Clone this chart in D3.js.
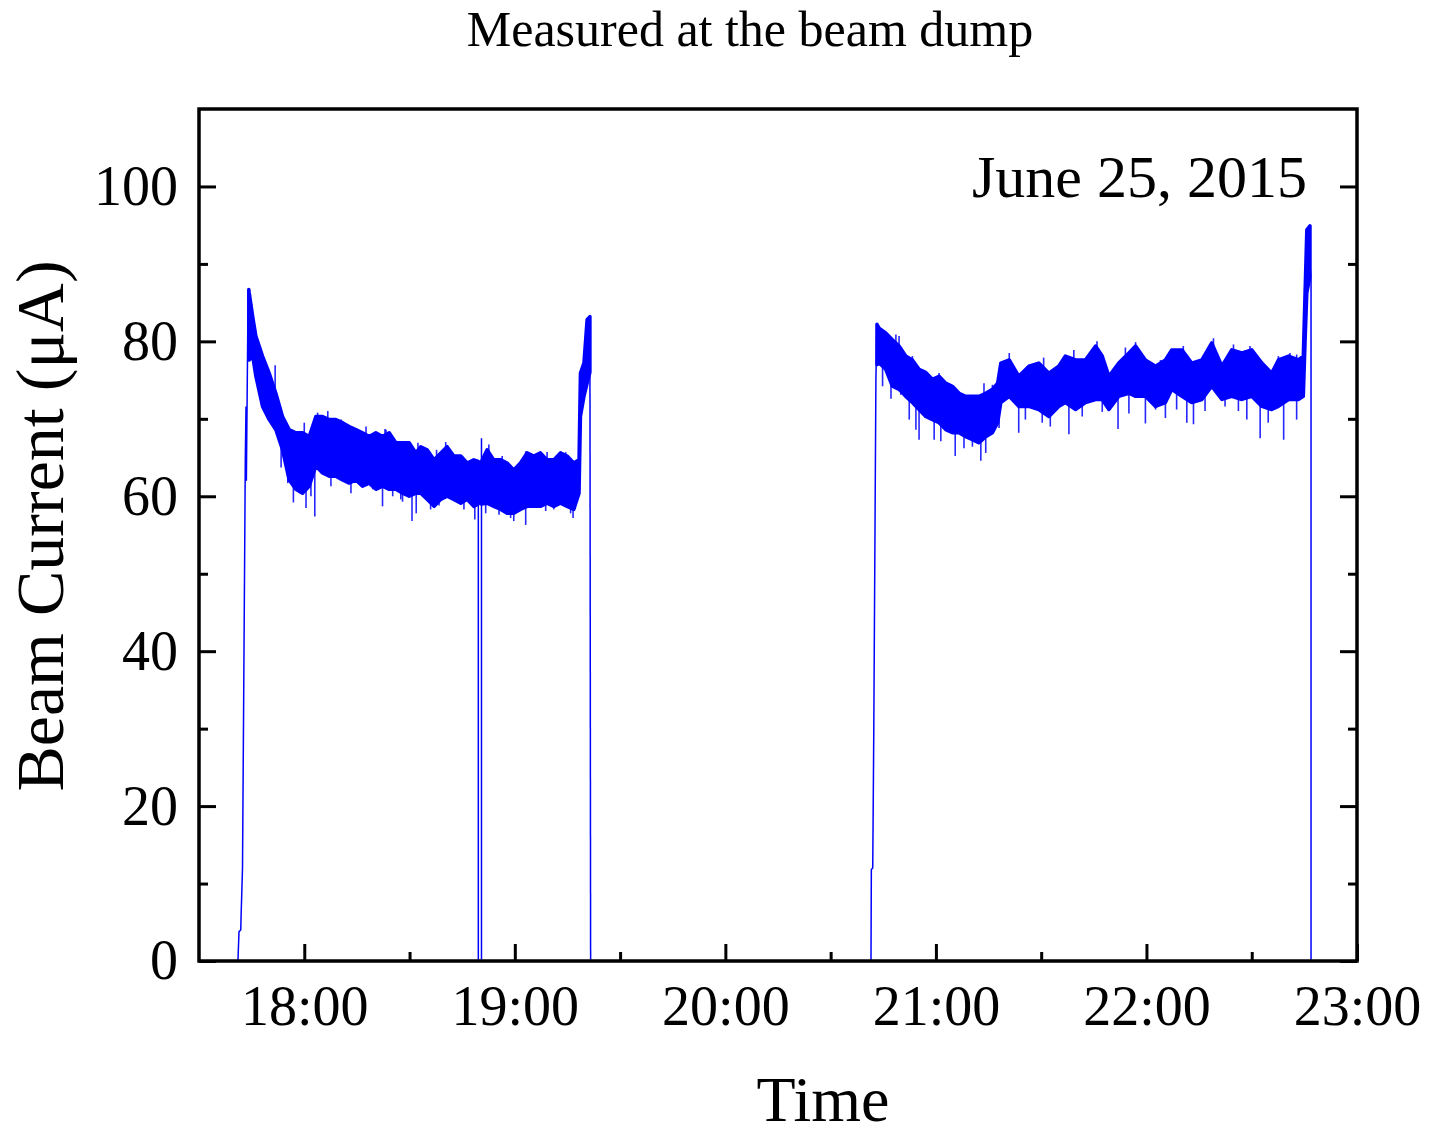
<!DOCTYPE html>
<html>
<head>
<meta charset="utf-8">
<script src="https://cdn.jsdelivr.net/npm/d3@7"></script>
<style>
  body { margin: 0; background: #fff; }
  text { font-family: "Liberation Serif", "Times New Roman", serif; fill: #000; }
</style>
</head>
<body>
<div id="chart"></div>
<script>
/* CONSTANTS AND GLOBALS */
const width = 1432,
  height = 1138,
  margin = { top: 109, bottom: 177, left: 199, right: 75 };

// times are minutes after 17:00 on June 25, 2015; values in µA (upper / lower edge of the noise band)
const run1aTime = [44.2, 44.3, 45.3, 46.2, 48.1, 50.0, 51.9, 53.8, 55.7, 57.6, 59.5, 61.4, 63.3, 65.2, 67.1, 69.0, 70.9, 72.8, 74.7, 76.6, 78.5, 80.4, 82.3, 84.2, 86.1, 88.0, 89.9, 91.8, 93.2, 95.0, 97.0, 98.9, 100.7, 102.6, 104.6, 106.4, 108.3, 109.6];
const run1aHi = [86.7, 86.3, 83.2, 80.7, 78.1, 75.9, 73.3, 70.3, 68.6, 68.2, 68.2, 67.7, 70.3, 70.3, 69.9, 69.9, 69.5, 69.0, 68.6, 68.2, 67.7, 68.2, 67.7, 68.2, 66.9, 66.9, 66.9, 65.6, 66.4, 66.0, 64.7, 65.6, 66.4, 65.2, 65.2, 64.3, 64.7, 64.5];
const run1aLo = [78.0, 77.6, 78.1, 75.5, 71.6, 69.9, 68.6, 66.0, 62.1, 60.9, 60.4, 61.3, 63.9, 63.0, 62.6, 62.6, 62.1, 61.7, 62.1, 61.3, 61.7, 60.9, 61.3, 60.9, 60.9, 60.4, 60.0, 60.4, 60.4, 59.6, 58.7, 59.6, 60.0, 59.6, 59.1, 59.6, 58.7, 59.0];

const run1bTime = [110.5, 112.1, 114.0, 116.0, 117.8, 119.7, 121.6, 123.5, 125.4, 127.3, 129.2, 131.1, 133.0, 134.9, 136.8, 138.3, 138.7, 139.7, 140.6, 141.4];
const run1bHi = [64.5, 66.0, 64.7, 64.7, 64.3, 63.4, 64.3, 65.6, 65.2, 65.6, 64.7, 64.7, 65.6, 65.2, 64.3, 64.7, 75.9, 77.2, 82.8, 83.2];
const run1bLo = [59.0, 59.1, 58.7, 58.3, 57.8, 57.8, 58.3, 58.7, 58.7, 58.7, 59.1, 58.7, 59.1, 58.7, 58.3, 60.4, 70.3, 72.9, 74.6, 76.0];

const run2Time = [223.2, 223.8, 225.7, 227.6, 229.5, 231.4, 233.3, 235.2, 237.1, 239.0, 240.9, 242.8, 244.7, 246.6, 248.5, 250.4, 252.3, 254.2, 256.1, 257.6, 258.5, 260.9, 263.6, 266.5, 269.3, 272.2, 275.0, 276.9, 279.8, 282.6, 285.5, 287.4, 289.3, 292.1, 295.0, 296.9, 299.7, 302.6, 305.4, 307.2, 310.1, 312.9, 315.8, 318.6, 321.5, 324.3, 327.2, 330.0, 332.9, 335.7, 337.6, 340.5, 343.3, 344.7, 345.2, 345.7, 346.6];
const run2Hi = [82.2, 81.7, 81.1, 80.2, 79.4, 78.1, 77.6, 76.4, 76.0, 75.1, 75.5, 74.6, 74.2, 73.3, 72.9, 72.9, 72.9, 73.3, 73.8, 74.6, 77.2, 77.6, 75.5, 76.8, 77.2, 75.9, 76.8, 78.1, 77.6, 77.6, 79.4, 78.1, 75.5, 77.2, 78.5, 79.4, 77.6, 76.8, 77.6, 78.9, 78.9, 77.2, 77.6, 79.8, 76.8, 78.9, 78.5, 78.9, 77.2, 75.9, 77.6, 78.1, 77.6, 78.1, 86.3, 94.4, 94.9];
const run2Lo = [77.0, 77.2, 76.4, 74.2, 73.8, 72.9, 72.1, 71.2, 70.3, 69.9, 69.5, 68.6, 68.2, 68.2, 67.7, 67.3, 66.9, 67.7, 68.2, 69.5, 72.1, 72.9, 71.6, 71.6, 71.2, 70.3, 71.6, 72.1, 71.2, 72.1, 72.5, 72.5, 71.2, 72.9, 73.3, 72.9, 72.9, 71.6, 72.1, 73.8, 72.9, 72.1, 72.5, 74.2, 72.5, 72.9, 72.5, 72.9, 71.6, 71.2, 71.6, 72.5, 72.5, 72.9, 80.0, 86.3, 88.4];

// beam on / off edges and drop-outs
const edge1Time = [41.1, 41.4, 41.9, 42.0, 42.4, 43.2, 43.4, 43.5, 44.0, 44.2];
const edge1Val = [0, 3.8, 4.0, 5.9, 12.0, 65.0, 71.6, 62.0, 86.7, 86.7];
const dropTime = [109.6, 109.6, 110.5, 110.5, 110.5];
const dropVal = [61.0, 0, 0, 67.5, 60.0];
const off1Time = [141.4, 141.6];
const off1Val = [80.0, 0];
const edge2Time = [221.5, 221.6, 222.0, 222.3, 222.9, 223.2];
const edge2Val = [0, 11.8, 12.0, 30.0, 75.0, 82.2];
const off2Time = [346.6, 346.9, 346.9];
const off2Val = [90.0, 88.0, 0];

// isolated excursions out of the band: time, tip value
const spikeTime = [
  49.6, 51.7, 53.4, 55.3, 56.9, 58.6, 60.0, 60.5, 61.9, 63.0, 63.8, 66.7, 67.6, 70.5, 73.3, 77.6, 79.5, 82.3, 83.0, 83.3,
  85.2, 87.5, 88.0, 90.7, 91.9, 92.4, 96.0, 97.7, 98.4, 100.3, 105.5, 108.6, 111.7, 112.6, 115.5, 116.4, 118.8, 119.7,
  123.1, 123.1, 128.8, 129.2, 131.1, 134.5, 135.9, 136.6,
  224.8, 227.2, 228.6, 229.5, 230.0, 232.4, 233.3, 234.3, 235.2, 239.5, 240.9, 241.4, 245.5, 248.0, 250.4, 252.8, 253.7,
  254.2, 256.1, 258.0, 260.9, 263.6, 265.5, 270.3, 270.7, 272.6, 277.9, 279.3, 281.7, 285.9, 287.4, 291.9, 294.0, 295.0,
  296.9, 299.7, 302.6, 304.0, 305.4, 308.6, 310.5, 311.5, 313.4, 316.7, 319.1, 322.4, 324.8, 326.2, 328.6, 329.5, 332.4,
  334.7, 337.6, 339.1, 340.9, 342.8, 342.8];
const spikeVal = [
  75.9, 76.9, 63.7, 61.7, 59.2, 60.4, 69.5, 58.5, 60.0, 57.4, 70.8, 71.0, 61.3, 69.9, 60.4, 69.0, 60.9, 58.7, 68.7, 68.6,
  60.0, 59.6, 59.3, 56.8, 57.8, 66.9, 58.3, 66.0, 58.8, 67.0, 58.3, 57.0, 57.8, 66.7, 57.6, 65.2, 57.2, 56.8,
  56.3, 65.8, 58.1, 65.7, 58.3, 65.7, 57.8, 57.2,
  74.2, 72.6, 80.9, 80.7, 73.1, 69.9, 78.1, 68.6, 67.3, 67.3, 75.9, 67.1, 65.2, 66.2, 66.4, 64.6, 74.6,
  65.6, 74.4, 68.8, 78.5, 68.2, 69.9, 69.5, 77.9, 69.0, 68.0, 78.9, 70.3, 80.0, 70.9, 68.7, 79.2, 70.7,
  79.9, 69.4, 71.2, 77.6, 70.1, 71.2, 79.4, 69.5, 69.3, 71.0, 80.4, 71.6, 79.6, 71.0, 69.9, 79.4, 67.5,
  69.5, 78.1, 67.3, 78.5, 69.9, 78.3];

const yTicks = [0, 20, 40, 60, 80, 100];
const yMinor = [10, 30, 50, 70, 90];
const xTickHours = [18, 19, 20, 21, 22, 23];
const xMinorHours = [18.5, 19.5, 20.5, 21.5, 22.5];

const base = new Date(2015, 5, 25, 17, 0, 0);
const toDate = m => new Date(base.getTime() + m * 60000);
const hourDate = h => toDate((h - 17) * 60);

const svg = d3.select("#chart")
  .append("svg")
    .attr("width", width)
    .attr("height", height);

const xScale = d3.scaleTime()
  .domain([hourDate(17.5), hourDate(23)])
  .range([margin.left, width - margin.right]);

const yScale = d3.scaleLinear()
  .domain([0, 110])
  .range([height - margin.bottom, margin.top]);

const plotW = width - margin.right - margin.left,
  plotH = height - margin.bottom - margin.top;

/* DATA */
const blue = "#0000ff";

const area = d3.area()
  .x(d => xScale(toDate(d.t)))
  .y0(d => yScale(d.lo))
  .y1(d => yScale(d.hi));

const line = d3.line()
  .x(d => xScale(toDate(d.t)))
  .y(d => yScale(d.v));

const bands = [
  [run1aTime, run1aHi, run1aLo],
  [run1bTime, run1bHi, run1bLo],
  [run2Time, run2Hi, run2Lo]
].map(([t, hi, lo]) => t.map((d, i) => ({ t: d, hi: hi[i], lo: lo[i] })));

svg.append("g")
  .selectAll("path")
  .data(bands)
  .join("path")
    .attr("d", area)
    .attr("fill", blue)
    .attr("stroke", blue)
    .attr("stroke-width", 3.5)
    .attr("stroke-linejoin", "round");

const traces = [
  [edge1Time, edge1Val],
  [dropTime, dropVal],
  [off1Time, off1Val],
  [edge2Time, edge2Val],
  [off2Time, off2Val]
].map(([t, v]) => t.map((d, i) => ({ t: d, v: v[i] })));

svg.append("g")
  .selectAll("path")
  .data(traces)
  .join("path")
    .attr("d", line)
    .attr("fill", "none")
    .attr("stroke", blue)
    .attr("stroke-width", 1.5);

// each spike starts from the middle of the nearest band sample
const allBand = bands.flat().sort((a, b) => a.t - b.t);
const nearest = t => {
  const i = d3.bisector(d => d.t).center(allBand, t);
  return (allBand[i].hi + allBand[i].lo) / 2;
};

svg.append("g")
  .selectAll("line")
  .data(spikeTime.map((t, i) => ({ t, v: spikeVal[i] })))
  .join("line")
    .attr("x1", d => xScale(toDate(d.t)))
    .attr("x2", d => xScale(toDate(d.t)))
    .attr("y1", d => yScale(nearest(d.t)))
    .attr("y2", d => yScale(d.v))
    .attr("stroke", blue)
    .attr("stroke-opacity", 0.85)
    .attr("stroke-width", 1.6);

/* AXES */
const tickFont = 56;

function styleAxis(g) {
  g.select(".domain").remove();
  g.selectAll(".tick line").attr("stroke", "#000").attr("stroke-width", 3);
  g.selectAll(".tick text").attr("font-size", tickFont).attr("font-family", "Liberation Serif");
}

svg.append("g")
  .attr("transform", `translate(${margin.left},0)`)
  .call(d3.axisLeft(yScale).tickValues(yTicks).tickSize(-17).tickPadding(21))
  .call(styleAxis);

svg.append("g")
  .attr("transform", `translate(${margin.left},0)`)
  .call(d3.axisLeft(yScale).tickValues(yMinor).tickSize(-9).tickFormat(""))
  .call(styleAxis);

svg.append("g")
  .attr("transform", `translate(${width - margin.right},0)`)
  .call(d3.axisRight(yScale).tickValues(yTicks).tickSize(-17).tickFormat(""))
  .call(styleAxis);

svg.append("g")
  .attr("transform", `translate(${width - margin.right},0)`)
  .call(d3.axisRight(yScale).tickValues(yMinor).tickSize(-9).tickFormat(""))
  .call(styleAxis);

svg.append("g")
  .attr("transform", `translate(0,${height - margin.bottom})`)
  .call(d3.axisBottom(xScale).tickValues(xTickHours.map(hourDate)).tickSize(-17).tickPadding(24).tickFormat(d3.timeFormat("%H:%M")))
  .call(styleAxis);

svg.append("g")
  .attr("transform", `translate(0,${height - margin.bottom})`)
  .call(d3.axisBottom(xScale).tickValues(xMinorHours.map(hourDate)).tickSize(-9).tickFormat(""))
  .call(styleAxis);

// frame
svg.append("rect")
  .attr("x", margin.left)
  .attr("y", margin.top)
  .attr("width", plotW)
  .attr("height", plotH)
  .attr("fill", "none")
  .attr("stroke", "#000")
  .attr("stroke-width", 3.5);

/* LABELS */
svg.append("text")
  .attr("x", 750)
  .attr("y", 46)
  .attr("text-anchor", "middle")
  .attr("font-size", 50)
  .text("Measured at the beam dump");

svg.append("text")
  .attr("x", 1307)
  .attr("y", 197)
  .attr("text-anchor", "end")
  .attr("font-size", 60)
  .text("June 25, 2015");

svg.append("text")
  .attr("x", 823)
  .attr("y", 1121)
  .attr("text-anchor", "middle")
  .attr("font-size", 64)
  .text("Time");

svg.append("text")
  .attr("transform", "translate(63,526) rotate(-90)")
  .attr("text-anchor", "middle")
  .attr("font-size", 68)
  .text("Beam Current (μA)");
</script>
</body>
</html>
